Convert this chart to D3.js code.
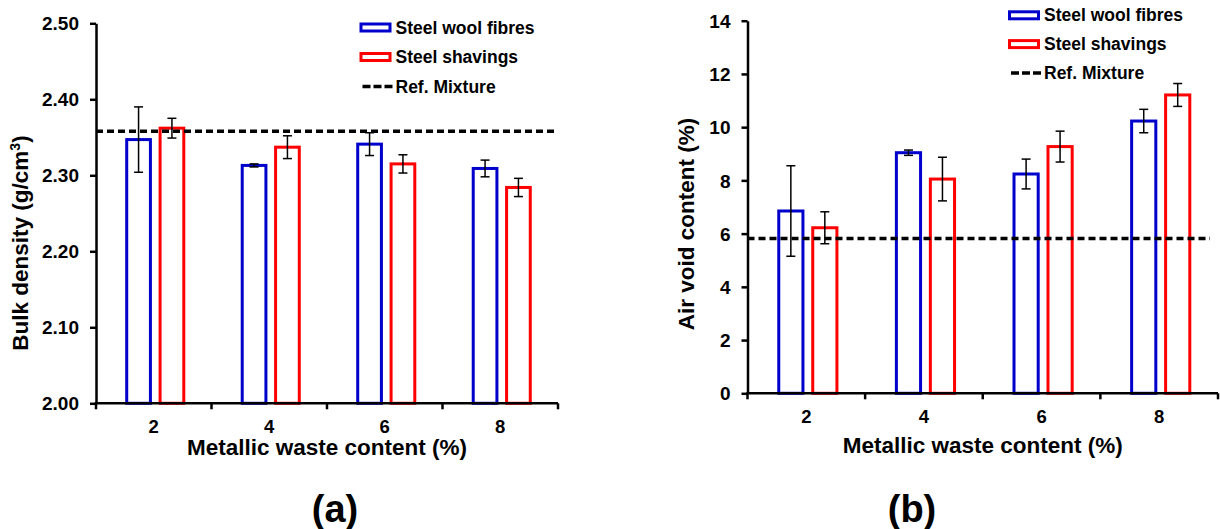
<!DOCTYPE html>
<html>
<head>
<meta charset="utf-8">
<script src="https://cdn.jsdelivr.net/npm/d3@7"></script>
<style>
  body { margin: 0; background: #fff; }
  svg { display: block; }
  text { font-family: "Liberation Sans", Arial, sans-serif; font-weight: bold; fill: #000; }
</style>
</head>
<body>
<svg id="fig" width="1220" height="529"></svg>
<script>
// ---- data ----
const categories = ["2", "4", "6", "8"];
const seriesNames = ["Steel wool fibres", "Steel shavings"];
const seriesColors = ["#0000cc", "#ff0000"];
const refName = "Ref. Mixture";

// (a) bulk density, g/cm3
const densityWool = [2.347, 2.313, 2.341, 2.309];
const densityWoolErr = [0.043, 0.002, 0.015, 0.011];
const densityShavings = [2.362, 2.337, 2.315, 2.284];
const densityShavingsErr = [0.013, 0.015, 0.012, 0.012];
const densityRef = 2.358;
const densityTicks = [2.0, 2.1, 2.2, 2.3, 2.4, 2.5];

// (b) air void content, %
const voidsWool = [6.85, 9.04, 8.24, 10.23];
const voidsWoolErr = [1.70, 0.10, 0.56, 0.44];
const voidsShavings = [6.22, 8.05, 9.27, 11.21];
const voidsShavingsErr = [0.60, 0.82, 0.58, 0.43];
const voidsRef = 5.82;
const voidsTicks = [0, 2, 4, 6, 8, 10, 12, 14];

const xTitle = "Metallic waste content (%)";

const svg = d3.select("#fig");

function drawPanel(cfg) {
  const g = svg.append("g");
  const x0 = d3.scaleBand().domain(categories).range(cfg.xRange).paddingInner(0).paddingOuter(0);
  const bw = x0.bandwidth();
  const x1 = d3.scaleBand().domain(seriesNames).range([bw * 0.253, bw * 0.773]).paddingInner(0.2).paddingOuter(0);
  const y = d3.scaleLinear().domain(cfg.yDomain).range(cfg.yRange);
  const y0 = y(cfg.yDomain[0]);
  const sw = 3;

  const rows = categories.map((c, i) => ({ c, i }));

  // bars
  cfg.values.forEach((vals, s) => {
    g.append("g").selectAll("rect").data(rows).join("rect")
      .attr("x", d => x0(d.c) + x1(seriesNames[s]) + sw / 2)
      .attr("width", x1.bandwidth() - sw)
      .attr("y", d => y(vals[d.i]))
      .attr("height", d => y0 - y(vals[d.i]))
      .attr("fill", "none")
      .attr("stroke", seriesColors[s])
      .attr("stroke-width", sw);
  });

  // error bars
  cfg.values.forEach((vals, s) => {
    const errs = cfg.errors[s];
    const eg = g.append("g").attr("stroke", "#000").attr("stroke-width", 1.5);
    rows.forEach(d => {
      const cx = x0(d.c) + x1(seriesNames[s]) + x1.bandwidth() / 2;
      const yt = y(vals[d.i] + errs[d.i]);
      const yb = y(vals[d.i] - errs[d.i]);
      eg.append("line").attr("x1", cx).attr("x2", cx).attr("y1", yt).attr("y2", yb);
      eg.append("line").attr("x1", cx - 4.5).attr("x2", cx + 4.5).attr("y1", yt).attr("y2", yt);
      eg.append("line").attr("x1", cx - 4.5).attr("x2", cx + 4.5).attr("y1", yb).attr("y2", yb);
    });
  });

  // reference line
  g.append("line")
    .attr("x1", cfg.xRange[0]).attr("x2", cfg.refEnd)
    .attr("y1", y(cfg.ref)).attr("y2", y(cfg.ref))
    .attr("stroke", "#000").attr("stroke-width", 3.5)
    .attr("stroke-dasharray", "7,4");

  // y axis
  const yAxis = d3.axisLeft(y).tickValues(cfg.ticks).tickFormat(cfg.fmt)
    .tickSize(6).tickSizeOuter(0).tickPadding(11);
  const ya = g.append("g").attr("transform", `translate(${cfg.xRange[0]},0)`).call(yAxis);
  ya.select(".domain").attr("stroke-width", 2.5);
  ya.selectAll(".tick line").attr("stroke-width", 2.5);
  ya.selectAll(".tick text").style("font-size", "19px").attr("dy", "0.35em");

  // x axis: line plus ticks at category boundaries
  const xa = g.append("g");
  xa.append("line").attr("x1", cfg.xRange[0] - 1.25).attr("x2", cfg.xRange[1])
    .attr("y1", y0).attr("y2", y0).attr("stroke", "#000").attr("stroke-width", 2.5);
  const bounds = categories.map(c => x0(c)).concat([cfg.xRange[1]]);
  xa.selectAll("line.tk").data(bounds).join("line").attr("class", "tk")
    .attr("x1", d => d).attr("x2", d => d)
    .attr("y1", y0).attr("y2", y0 + 6)
    .attr("stroke", "#000").attr("stroke-width", 2.5);
  xa.selectAll("text").data(categories).join("text")
    .attr("x", c => x0(c) + bw / 2).attr("y", y0 + 30)
    .attr("text-anchor", "middle").style("font-size", "18.5px").text(c => c);

  // axis titles
  g.append("text").attr("x", (cfg.xRange[0] + cfg.xRange[1]) / 2).attr("y", cfg.xTitleY)
    .attr("text-anchor", "middle").style("font-size", "22.5px").text(xTitle);
  const yt = g.append("text")
    .attr("transform", `translate(${cfg.yTitleX},${cfg.yTitleY}) rotate(-90)`)
    .attr("text-anchor", "middle").style("font-size", "22.5px");
  yt.append("tspan").text(cfg.yTitle[0]);
  if (cfg.yTitle.length > 1) {
    yt.append("tspan").attr("dy", -8).style("font-size", "14px").text(cfg.yTitle[1]);
    yt.append("tspan").attr("dy", 8).text(cfg.yTitle[2]);
  }

  // legend
  const lg = g.append("g");
  const L = cfg.legend;
  seriesNames.forEach((name, s) => {
    const cy = L.y + s * L.step;
    lg.append("rect").attr("x", L.x + 1.5).attr("y", cy - 3.5).attr("width", 29).attr("height", 7)
      .attr("fill", "none").attr("stroke", seriesColors[s]).attr("stroke-width", 3);
    lg.append("text").attr("x", L.x + 36).attr("y", cy + 6).style("font-size", "17.5px").text(name);
  });
  const cy3 = L.y + 2 * L.step;
  lg.append("line").attr("x1", L.x + 3).attr("x2", L.x + 33).attr("y1", cy3).attr("y2", cy3)
    .attr("stroke", "#000").attr("stroke-width", 3.5).attr("stroke-dasharray", "8,3");
  lg.append("text").attr("x", L.x + 36).attr("y", cy3 + 6.5).style("font-size", "17.5px").text(refName);

  // panel label
  g.append("text").attr("x", cfg.labelX).attr("y", 522).attr("text-anchor", "middle")
    .style("font-size", "38px").text(cfg.label);
}

drawPanel({
  xRange: [96, 558], yRange: [403.3, 23.3], yDomain: [2.0, 2.5],
  ticks: densityTicks, fmt: d3.format(".2f"),
  values: [densityWool, densityShavings], errors: [densityWoolErr, densityShavingsErr],
  ref: densityRef, refEnd: 558,
  yTitle: ["Bulk density (g/cm", "3", ")"], yTitleX: 28, yTitleY: 243, xTitleY: 455,
  legend: { x: 359.5, y: 27.5, step: 29.5 },
  label: "(a)", labelX: 335
});

drawPanel({
  xRange: [747.5, 1218], yRange: [393.3, 20.7], yDomain: [0, 14],
  ticks: voidsTicks, fmt: d3.format("d"),
  values: [voidsWool, voidsShavings], errors: [voidsWoolErr, voidsShavingsErr],
  ref: voidsRef, refEnd: 1210,
  yTitle: ["Air void content (%)"], yTitleX: 694, yTitleY: 224, xTitleY: 453,
  legend: { x: 1008, y: 15.3, step: 28.8 },
  label: "(b)", labelX: 912
});
</script>
</body>
</html>
